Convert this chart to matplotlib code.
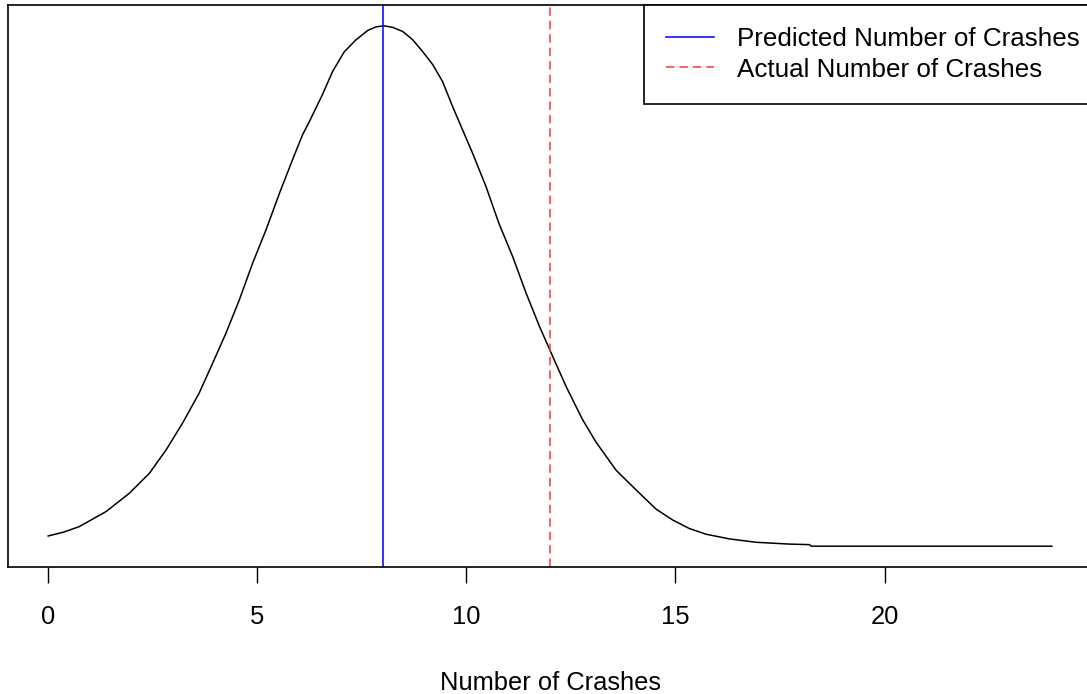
import matplotlib
matplotlib.use("Agg")
import matplotlib.pyplot as plt

plt.rcParams['font.family'] = ['Liberation Sans', 'DejaVu Sans']

# Density curve (relative height, peak = 1)
x_vals = [0.0, 0.37, 0.74, 1.38, 1.94, 2.42, 2.82, 3.21, 3.61, 3.93, 4.25,
          4.57, 4.89, 5.21, 5.53, 5.84, 6.08, 6.24, 6.56, 6.80, 7.08, 7.36,
          7.64, 7.84, 8.03, 8.24, 8.48, 8.72, 8.96, 9.20, 9.43, 9.67, 9.91,
          10.15, 10.47, 10.78, 11.11, 11.43, 11.75, 12.03, 12.39, 12.78,
          13.10, 13.58, 14.06, 14.54, 14.94, 15.33, 15.73, 16.29, 16.93,
          17.73, 18.20, 18.25, 24.0]
density = [0.0196, 0.027, 0.0375, 0.0663, 0.1016, 0.140, 0.185, 0.236, 0.294,
           0.351, 0.409, 0.473, 0.544, 0.608, 0.678, 0.742, 0.790, 0.815,
           0.868, 0.912, 0.950, 0.973, 0.991, 0.998, 1.000, 0.997, 0.989,
           0.973, 0.950, 0.925, 0.893, 0.845, 0.800, 0.755, 0.691, 0.620,
           0.556, 0.486, 0.422, 0.371, 0.306, 0.243, 0.200, 0.146, 0.108,
           0.071, 0.050, 0.034, 0.023, 0.014, 0.0075, 0.004, 0.003, 0.0, 0.0]

predicted = 8
actual = 12
x_ticks = [0, 5, 10, 15, 20]
legend_labels = ["Predicted Number of Crashes", "Actual Number of Crashes"]
x_label = "Number of Crashes"

W, H = 1087, 694
fig = plt.figure(figsize=(W / 100, H / 100), dpi=100)
left_px, right_px, top_px, bottom_px = 8, 1092, 5, 567
ax = fig.add_axes([left_px / W, 1 - bottom_px / H,
                   (right_px - left_px) / W, (bottom_px - top_px) / H])

ax.plot(x_vals, density, color='black', linewidth=1.1)
ax.axvline(predicted, color='#1010FF', linewidth=1.2, label=legend_labels[0])
ax.axvline(actual, color='#FF3535', linewidth=1.1, linestyle=(0, (5.5, 3.3)),
           label=legend_labels[1])

xmin, xmax = min(x_vals), max(x_vals)
pad = 0.04 * (xmax - xmin)
ax.set_xlim(xmin - pad, xmax + pad)
ymin, ymax = min(density), max(density)
ypad = 0.04 * (ymax - ymin)
ax.set_ylim(ymin - ypad, ymax + ypad)

ax.set_xticks(x_ticks)
ax.set_xticklabels([str(t) for t in x_ticks])
ax.set_yticks([])
ax.tick_params(axis='x', length=11.5, width=1.0, pad=15.5, labelsize=18.4,
               colors='black')
for s in ax.spines.values():
    s.set_linewidth(1.2)
    s.set_color('black')

ax.set_xlabel(x_label, fontsize=18.4)
ax.xaxis.set_label_coords(0.5, -(671 - 567) / (bottom_px - top_px))

leg = ax.legend(loc='upper right', bbox_to_anchor=(1 + 9.5 / 1084, 1.0),
                fontsize=18.7, frameon=True, fancybox=False,
                edgecolor='black', framealpha=1, borderaxespad=0,
                borderpad=0.85, labelspacing=0.25, handlelength=1.85,
                handletextpad=0.88)
leg.get_frame().set_linewidth(1.2)

fig.savefig("out.png", dpi=100)
